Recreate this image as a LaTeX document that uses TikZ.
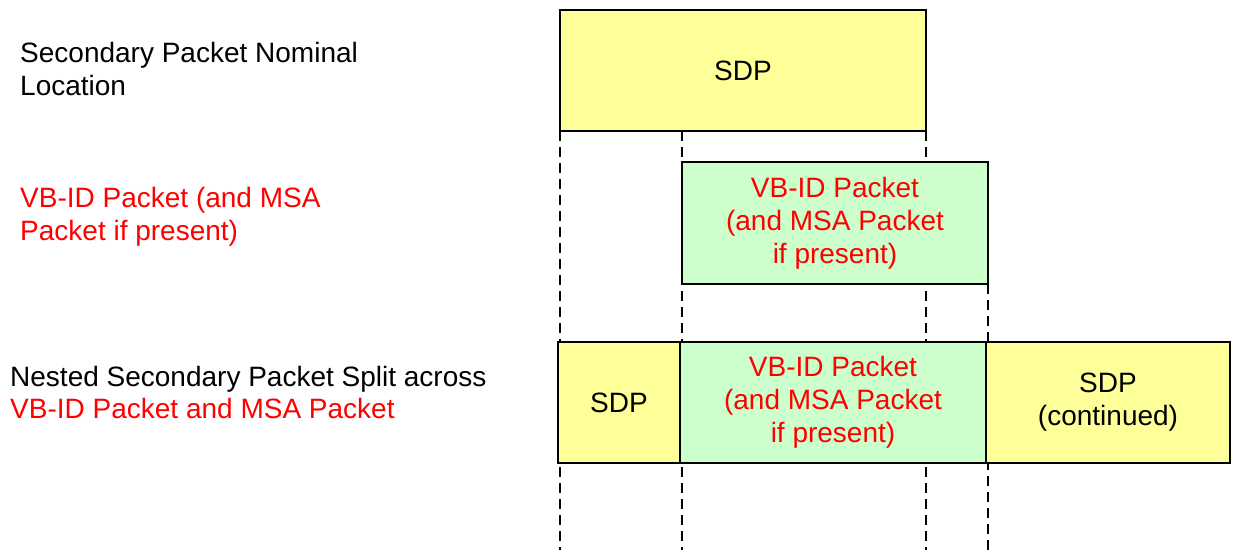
\documentclass[tikz,border=0pt]{standalone}
\usepackage{fontspec}
\setmainfont{Liberation Sans}
\usetikzlibrary{backgrounds}
\definecolor{sdpyellow}{HTML}{FFFF99}
\definecolor{vbgreen}{HTML}{CCFFCC}
\definecolor{vbred}{HTML}{FF0000}
\tikzset{
  pkt/.style={draw=black, line width=1.2pt, inner sep=0pt, outer sep=0pt, align=center, anchor=north west,
    font=\fontsize{28}{33}\selectfont},
  sdpbox/.style={pkt, fill=sdpyellow, text=black},
  vbbox/.style={pkt, fill=vbgreen, text=vbred},
  lbl/.style={inner sep=0pt, align=left, anchor=west, font=\fontsize{28}{33}\selectfont},
  guide/.style={line width=1.2pt, dash pattern=on 10pt off 6pt},
}
\begin{document}
\begin{tikzpicture}[x=1pt,y=-1pt]
\useasboundingbox (0,0) rectangle (1233,550);
% left labels
\node[lbl] (l1) at (20,68.5) {Secondary Packet Nominal\\Location};
\node[lbl, text=vbred] (l2) at (20,216.3) {VB-ID Packet (and MSA\\Packet if present)};
\node[lbl, font=\fontsize{28}{32}\selectfont] (l3) at (10,392.3) {Nested Secondary Packet Split across\\\textcolor{vbred}{VB-ID Packet and MSA Packet}};
% packets
\node[sdpbox, minimum width=366pt, minimum height=121pt] (nom) at (560,10) {SDP};
\node[vbbox, minimum width=306pt, minimum height=122pt] (vb1) at (682,162) {VB-ID Packet\\(and MSA Packet\\if present)};
\node[sdpbox, minimum width=122pt, minimum height=121pt] (s2) at (558,342) {SDP};
\node[vbbox, minimum width=306pt, minimum height=121pt] (vb2) at (s2.north east) {VB-ID Packet\\(and MSA Packet\\if present)};
\node[sdpbox, minimum width=244pt, minimum height=121pt] (s3) at (vb2.north east) {SDP\\(continued)};
\coordinate (end) at (0,550);
% dashed guides
\begin{pgfonlayer}{background}
\draw[guide] (nom.south west) -- (nom.south west |- end);
\draw[guide] (vb1.north west |- nom.south) -- (vb1.north west |- end);
\draw[guide] (nom.south east) -- (nom.south east |- end);
\draw[guide] (vb1.south east) -- (vb1.south east |- end);
\end{pgfonlayer}
\end{tikzpicture}
\end{document}
